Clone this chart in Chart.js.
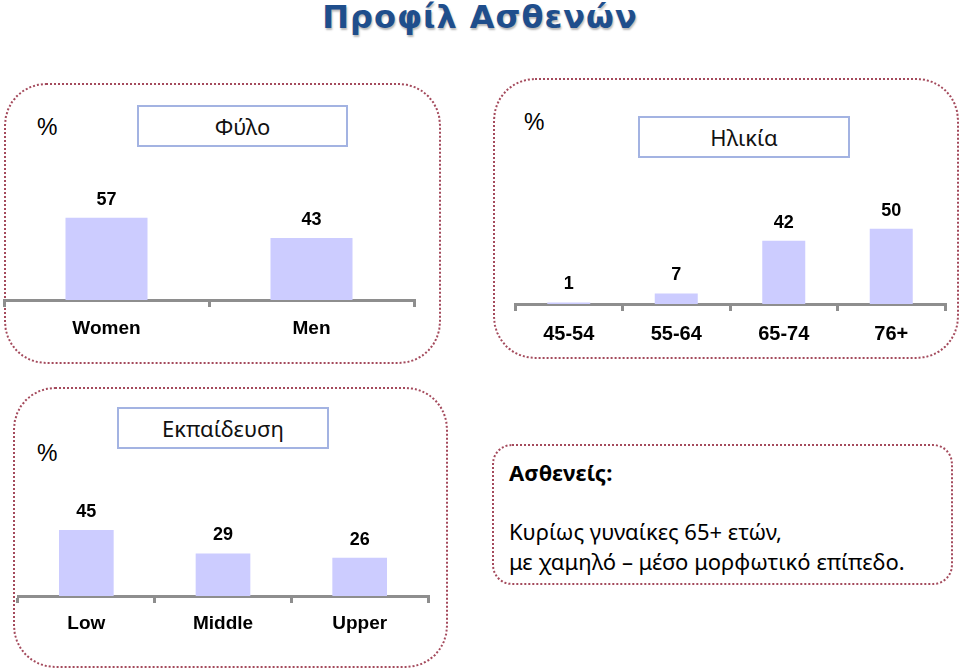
<!DOCTYPE html>
<html lang="el">
<head>
<meta charset="utf-8">
<title>Προφίλ Ασθενών</title>
<script src="https://cdn.jsdelivr.net/npm/chart.js@4.4.1/dist/chart.umd.min.js"></script>
<style>
  body { margin: 0; background: #fff; font-family: "Noto Sans", "Open Sans", sans-serif; }
  #page { position: relative; width: 960px; height: 670px; overflow: hidden; }
  .box { position: absolute; border: 2px dotted #a44a5c; box-sizing: border-box; }
  .big { border-radius: 42px; }
  .tag { position: absolute; border: 2px solid #a3b3e2; box-sizing: border-box;
         display: flex; align-items: center; justify-content: center; font-size: 22px; color: #111; }
  .pct { position: absolute; font-family: "Liberation Sans", Arial, sans-serif; font-size: 23px; color: #000; line-height: 1; }
  canvas { position: absolute; }
  h1 { position: absolute; left: 0; width: 960px; top: -3px; margin: 0; text-align: center;
       font-family: "DejaVu Sans", "Noto Sans", sans-serif; letter-spacing: 1px;
       font-size: 32px; font-weight: bold; color: #1f4e8c; line-height: 40px;
       text-shadow: 1px 2px 2px rgba(0,0,0,0.28); }
  .note { position: absolute; font-size: 22px; color: #000; line-height: 30px; }
</style>
</head>
<body>
<div id="page">
  <h1>Προφίλ Ασθενών</h1>

  <div class="box big" style="left:4px; top:83px; width:437px; height:281px;"></div>
  <div class="tag" style="left:137px; top:105px; width:211px; height:42px;">Φύλο</div>
  <div class="pct" style="left:37px; top:116px;">%</div>
  <canvas id="sexChart" width="414" height="175" style="left:2px; top:170px;"></canvas>

  <div class="box big" style="left:493px; top:78px; width:466px; height:281px;"></div>
  <div class="tag" style="left:638px; top:116px; width:212px; height:42px;">Ηλικία</div>
  <div class="pct" style="left:524px; top:111px;">%</div>
  <canvas id="ageChart" width="434" height="158" style="left:513px; top:191px;"></canvas>

  <div class="box big" style="left:13px; top:387px; width:435px; height:281px;"></div>
  <div class="tag" style="left:117px; top:407px; width:212px; height:42px;">Εκπαίδευση</div>
  <div class="pct" style="left:37px; top:442px;">%</div>
  <canvas id="eduChart" width="414" height="161" style="left:16px; top:480px;"></canvas>

  <div class="box" style="left:492px; top:444px; width:461px; height:141px; border-radius:20px;"></div>
  <div class="note" style="left:509px; top:457px; font-weight:bold;">Ασθενείς:</div>
  <div class="note" style="left:509px; top:516px;">Κυρίως γυναίκες 65+ ετών,<br>με χαμηλό – μέσο μορφωτικό επίπεδο.</div>
</div>

<script>
// chart data
const sexLabels = ['Women', 'Men'];
const sexValues = [57, 43];

const ageLabels = ['45-54', '55-64', '65-74', '76+'];
const ageValues = [1, 7, 42, 50];

const eduLabels = ['Low', 'Middle', 'Upper'];
const eduValues = [45, 29, 26];

const barColor = '#ccccff';
const axisColor = '#8e8e8e';
const labelFont = '"Liberation Sans", Arial, sans-serif';

// draws the value above each bar
const valueLabels = {
    id: 'valueLabels',
    afterDatasetsDraw(chart) {
        const ctx = chart.ctx;
        const meta = chart.getDatasetMeta(0);
        ctx.save();
        ctx.font = 'bold 18px ' + labelFont;
        ctx.fillStyle = '#000';
        ctx.textAlign = 'center';
        ctx.textBaseline = 'middle';
        meta.data.forEach((bar, i) => {
            ctx.fillText(chart.data.datasets[0].data[i], bar.x, bar.y - 18);
        });
        ctx.restore();
    }
};

function makeChart(id, labels, values, yMax, tickSize, tickPad) {
    const ctx = document.getElementById(id).getContext('2d');
    return new Chart(ctx, {
        type: 'bar',
        data: {
            labels: labels,
            datasets: [{
                data: values,
                backgroundColor: barColor,
                borderWidth: 0,
                barPercentage: 0.4,
                categoryPercentage: 1
            }]
        },
        options: {
            responsive: false,
            animation: false,
            layout: { padding: { left: 2, right: 2, top: 0, bottom: 0 } },
            plugins: {
                legend: { display: false },
                tooltip: { enabled: false }
            },
            scales: {
                x: {
                    grid: { drawOnChartArea: false, tickLength: 7, color: axisColor, lineWidth: 3 },
                    border: { display: true, color: axisColor, width: 3 },
                    ticks: { color: '#000', padding: tickPad, font: { family: labelFont, size: tickSize, weight: 'bold' } },
                    afterFit: s => { s.height = 45; }
                },
                y: { display: false, min: 0, max: yMax }
            }
        },
        plugins: [valueLabels]
    });
}

makeChart('sexChart', sexLabels, sexValues, 90, 19, 10);
makeChart('ageChart', ageLabels, ageValues, 75, 20, 11);
makeChart('eduChart', eduLabels, eduValues, 79, 19, 9);
</script>
</body>
</html>
